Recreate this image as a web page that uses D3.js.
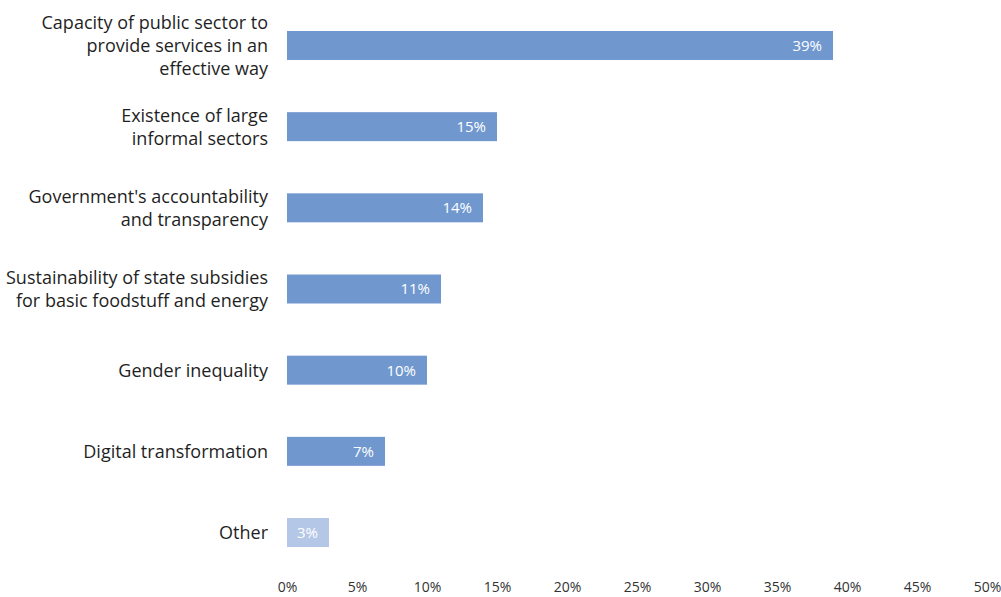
<!DOCTYPE html>
<html>
<head>
<meta charset="utf-8">
<script src="https://cdn.jsdelivr.net/npm/d3@7/dist/d3.min.js"></script>
<style>
  body { margin: 0; background: #fff; }
  svg text { font-family: "Open Sans", Lato, sans-serif; }
</style>
</head>
<body>
<div class="chart"></div>
<script>
var categories = [
  ["Capacity of public sector to", "provide services in an", "effective way"],
  ["Existence of large", "informal sectors"],
  ["Government's accountability", "and transparency"],
  ["Sustainability of state subsidies", "for basic foodstuff and energy"],
  ["Gender inequality"],
  ["Digital transformation"],
  ["Other"]
];
var values = [39, 15, 14, 11, 10, 7, 3];
var ticks = [0, 5, 10, 15, 20, 25, 30, 35, 40, 45, 50];

var width = 1001,
    height = 597;

var svg = d3.select(".chart").append("svg")
    .attr("width", width)
    .attr("height", height);

var x = d3.scaleLinear()
    .domain([0, 50])
    .range([287, 987]);

var y = d3.scaleBand()
    .domain(d3.range(categories.length))
    .range([31, 547])
    .paddingInner(0.643)
    .paddingOuter(0);

// bars
svg.append("g")
    .selectAll("rect")
    .data(values)
    .enter()
    .append("rect")
    .attr("x", x(0))
    .attr("y", function(d, i){ return y(i); })
    .attr("width", function(d){ return x(d) - x(0); })
    .attr("height", y.bandwidth())
    .attr("fill", function(d, i){
      return i == values.length - 1 ? "#b4c7e7" : "#7098cf";
    });

// value labels
svg.append("g")
    .selectAll("text")
    .data(values)
    .enter()
    .append("text")
    .attr("x", function(d){ return x(d) - 11; })
    .attr("y", function(d, i){ return y(i) + y.bandwidth() / 2; })
    .attr("dy", "0.36em")
    .attr("text-anchor", "end")
    .attr("fill", "#fff")
    .style("font-size", "15px")
    .text(function(d){ return d + "%"; });

// category labels
var lab = svg.append("g")
    .selectAll("text")
    .data(categories)
    .enter()
    .append("text")
    .attr("text-anchor", "end")
    .attr("fill", "#1f1f1f")
    .style("font-size", "18px")
    .attr("y", function(d, i){
      return y(i) + y.bandwidth() / 2 - (d.length - 1) * 23 / 2;
    });

lab.selectAll("tspan")
    .data(function(d){ return d; })
    .enter()
    .append("tspan")
    .attr("x", 268)
    .attr("dy", function(d, j){ return j == 0 ? "0.36em" : 23; })
    .text(function(d){ return d; });

// x axis
var xAxis = d3.axisBottom(x)
    .tickValues(ticks)
    .tickSize(0)
    .tickPadding(0)
    .tickFormat(function(d){ return d + "%"; });

var ax = svg.append("g")
    .attr("transform", "translate(0,582)")
    .call(xAxis);

ax.select(".domain").remove();
ax.selectAll("text")
    .attr("fill", "#333")
    .style("font-family", "'Open Sans', Lato, sans-serif")
    .style("font-size", "14px");
</script>
</body>
</html>
